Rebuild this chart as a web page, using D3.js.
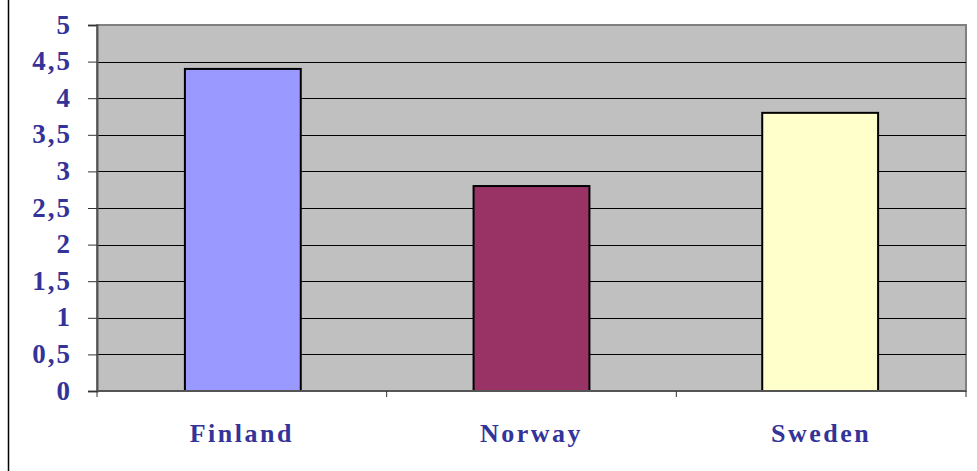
<!DOCTYPE html>
<html>
<head>
<meta charset="utf-8">
<script src="https://d3js.org/d3.v7.min.js"></script>
<style>
	body { margin: 0; background: #fff; }
	.lbl { font-family: "Liberation Serif", "Times New Roman", serif; font-weight: bold; fill: #333399; }
</style>
</head>
<body>
<script>
// data
var countries = ["Finland", "Norway", "Sweden"]
var values = [4.4, 2.8, 3.8]
var colors = ["#9999FF", "#993366", "#FFFFCC"]
var yTicks = [0, 0.5, 1, 1.5, 2, 2.5, 3, 3.5, 4, 4.5, 5]

var W = 977, H = 471
var plot = {left: 97, top: 25, right: 966, bottom: 391}

var svg = d3.select("body").append("svg")
	.attr("width", W)
	.attr("height", H)

// frame line on the left edge
svg.append("line")
	.attr("x1", 8.5).attr("x2", 8.5)
	.attr("y1", 0).attr("y2", H)
	.attr("stroke", "#000").attr("stroke-width", 1.5)

var x = d3.scaleBand().domain(countries)
	.range([plot.left, plot.right])
	.paddingInner(0).paddingOuter(0)

var y = d3.scaleLinear().domain([0, 5]).range([plot.bottom, plot.top])

// plot background
svg.append("rect")
	.attr("x", plot.left).attr("y", plot.top)
	.attr("width", plot.right - plot.left)
	.attr("height", plot.bottom - plot.top)
	.attr("fill", "#C0C0C0")
	.attr("stroke", "#808080").attr("stroke-width", 2)

// gridlines
svg.append("g").selectAll("line")
	.data(yTicks.filter(function(d){ return d > 0 && d < 5 }))
	.enter().append("line")
	.attr("x1", plot.left).attr("x2", plot.right)
	.attr("y1", function(d){ return Math.round(y(d)) + 0.5 })
	.attr("y2", function(d){ return Math.round(y(d)) + 0.5 })
	.attr("stroke", "#000").attr("stroke-width", 1)

// bars
var bw = x.bandwidth() * 0.4
svg.append("g").selectAll("rect")
	.data(values)
	.enter().append("rect")
	.attr("x", function(d, i){ return x(countries[i]) + x.bandwidth() / 2 - bw / 2 + 1 - i })
	.attr("y", function(d){ return y(d) })
	.attr("width", bw)
	.attr("height", function(d){ return y(0) - y(d) })
	.attr("fill", function(d, i){ return colors[i] })
	.attr("stroke", "#000").attr("stroke-width", 2)

// y axis
var yAxis = d3.axisLeft(y).tickValues(yTicks).tickSize(9).tickPadding(16)
	.tickFormat(function(d){ return String(d).replace(".", ",") })
var gy = svg.append("g").attr("transform", "translate(" + plot.left + ",0)").call(yAxis)
gy.select(".domain").attr("stroke", "#555").attr("stroke-width", 2)
gy.selectAll(".tick line").attr("stroke", "#333")
gy.selectAll("text").attr("class", "lbl")
	.style("font-size", "27px").style("letter-spacing", "2px")
	.attr("fill", null).attr("dy", "0.3em")

// x axis
var gx = svg.append("g").attr("transform", "translate(0," + plot.bottom + ")")
gx.append("line")
	.attr("x1", plot.left).attr("x2", plot.right)
	.attr("stroke", "#555").attr("stroke-width", 2)
var bounds = countries.map(function(c){ return x(c) }).concat([plot.right])
gx.selectAll(".xt").data(bounds).enter().append("line")
	.attr("x1", function(d){ return d }).attr("x2", function(d){ return d })
	.attr("y1", 0).attr("y2", 6)
	.attr("stroke", "#333")
gx.selectAll("text").data(countries).enter().append("text")
	.attr("class", "lbl")
	.attr("x", function(d){ return x(d) + x.bandwidth() / 2 })
	.attr("y", 51)
	.attr("text-anchor", "middle")
	.style("font-size", "26px").style("letter-spacing", "2.5px")
	.text(function(d){ return d })
</script>
</body>
</html>
